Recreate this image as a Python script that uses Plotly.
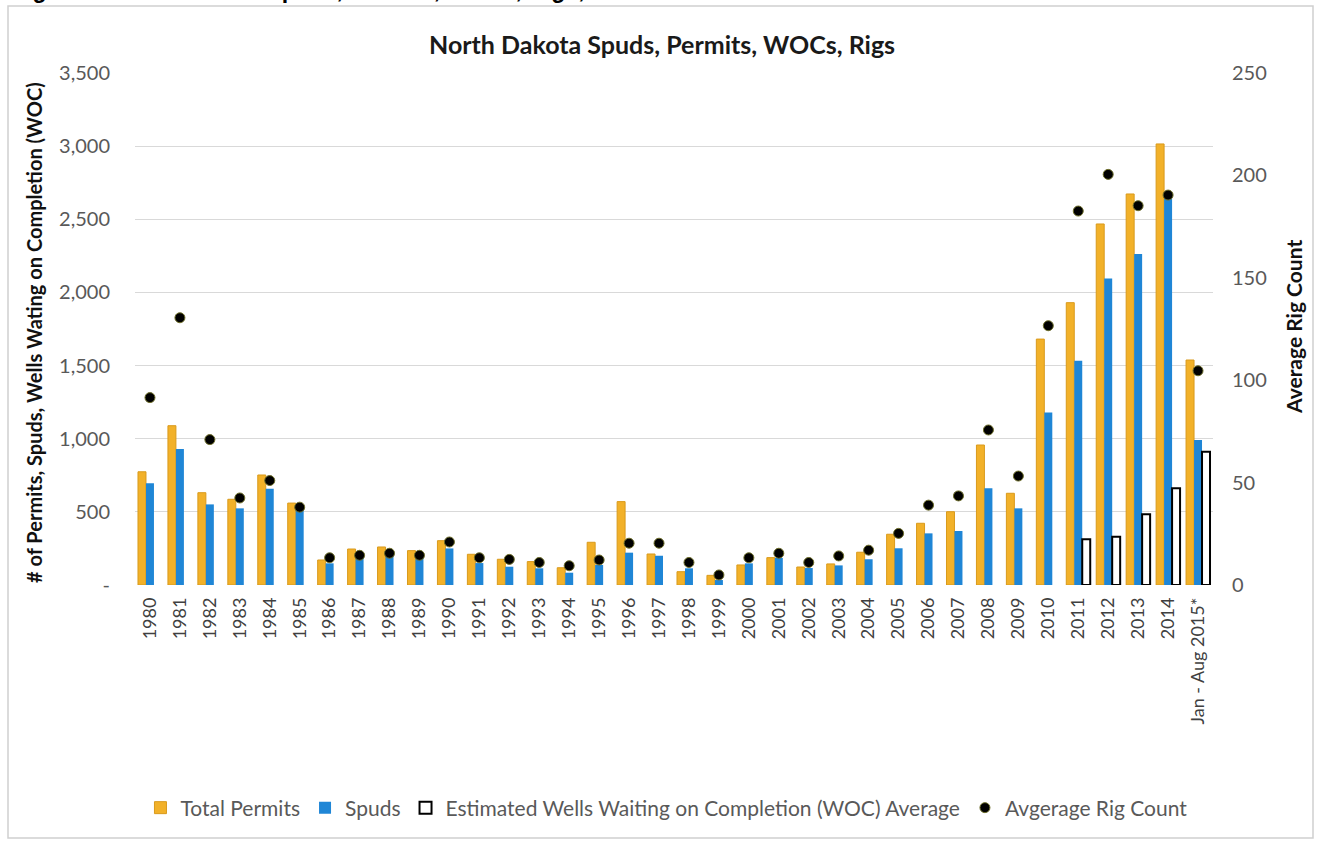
import plotly.graph_objects as go

categories = [str(y) for y in range(1980, 2015)] + ["Jan - Aug 2015*"]

total_permits = [774, 1089, 631, 586, 752, 560, 171, 246, 260, 235, 303, 210, 176, 160, 118, 292,
                 570, 212, 91, 66, 137, 187, 123, 144, 224, 347, 422, 501, 957, 627, 1681, 1930,
                 2468, 2673, 3015, 1538]
spuds = [695, 930, 551, 524, 658, 520, 148, 200, 200, 190, 250, 150, 125, 114, 84, 137,
         221, 200, 114, 34, 148, 185, 116, 134, 176, 251, 353, 369, 661, 524, 1180, 1533,
         2096, 2263, 2643, 991]
woc = [None] * 31 + [312, 330, 483, 661, 911]
rig_count = [91.5, 130.5, 71, 42.5, 51, 38, 13.3, 14.5, 15.5, 14.5, 21, 13.3, 12.5, 11, 9.4, 12.2,
             20.4, 20.4, 11, 4.9, 13.3, 15.5, 11, 14.2, 17, 25.2, 39, 43.5, 75.7, 53.2, 126.6, 182.6,
             200.5, 185.2, 190.4, 104.6]

left_tickvals = [0, 500, 1000, 1500, 2000, 2500, 3000, 3500]
left_ticktext = ["-", "500", "1,000", "1,500", "2,000", "2,500", "3,000", "3,500"]
right_tickvals = [0, 50, 100, 150, 200, 250]

FONT = "Lato"
GRAY = "#595959"

fig = go.Figure()
fig.add_trace(go.Bar(x=categories, y=total_permits, name="Total Permits",
                     marker=dict(color="#F2B129", line=dict(color="#D99A1C", width=1))))
fig.add_trace(go.Bar(x=categories, y=spuds, name="Spuds",
                     marker=dict(color="#1F86D6", line=dict(color="#1F86D6", width=0))))
fig.add_trace(go.Bar(x=categories, y=woc, name="Estimated Wells Waiting on Completion (WOC) Average",
                     marker=dict(color="white", line=dict(color="black", width=2))))
fig.add_trace(go.Scatter(x=categories, y=rig_count, name="Avgerage Rig Count", mode="markers",
                         yaxis="y2",
                         marker=dict(color="black", size=10, line=dict(color="#6E6E2A", width=1))))

L, R, T, B = 135, 107, 73, 257
W, H = 1320, 842
pw, ph = W - L - R, H - T - B

def px(x):
    return (x - L) / pw

def py(y):
    return (H - B - y) / ph

fig.update_layout(
    width=W, height=H,
    margin=dict(l=L, r=R, t=T, b=B, autoexpand=False),
    paper_bgcolor="white", plot_bgcolor="white",
    barmode="group", bargap=0.2, bargroupgap=0,
    font=dict(family=FONT, color=GRAY, size=18),
    showlegend=True,
    legend=dict(orientation="h", x=0.493, xanchor="center", y=py(808), yanchor="middle",
                font=dict(family=FONT, size=21, color=GRAY), itemwidth=30,
                traceorder="normal"),
    xaxis=dict(type="category", tickangle=-90, showgrid=False, showline=False,
               ticks="", ticklabelstandoff=8,
               tickfont=dict(family=FONT, size=18, color="#404040"),
               range=[-0.5, len(categories) - 0.5]),
    yaxis=dict(range=[0, 3500], tickvals=left_tickvals, ticktext=left_ticktext,
               showgrid=True, gridcolor="#D9D9D9", gridwidth=1, zeroline=False,
               showline=False, ticks="", ticklabelstandoff=24,
               tickfont=dict(family=FONT, size=20, color=GRAY)),
    yaxis2=dict(range=[0, 250], tickvals=right_tickvals, overlaying="y", side="right",
                showgrid=False, zeroline=False, showline=False, ticks="",
                ticklabelstandoff=18,
                tickfont=dict(family=FONT, size=20, color=GRAY)),
    shapes=[dict(type="rect", xref="paper", yref="paper",
                 x0=px(8), x1=px(1313), y0=py(838), y1=py(6),
                 line=dict(color="#D0D0D0", width=1.5), fillcolor="rgba(0,0,0,0)",
                 layer="below")],
    annotations=[
        dict(text="<b>North Dakota Spuds, Permits, WOCs, Rigs</b>", xref="paper", yref="paper",
             x=px(662), y=py(44), xanchor="center", yanchor="middle", showarrow=False,
             font=dict(family=FONT, size=25, color="#1A1A1A")),
        dict(text="<b># of Permits, Spuds, Wells Wating on Completion (WOC)</b>",
             xref="paper", yref="paper", x=px(34), y=py(333), textangle=-90,
             xanchor="center", yanchor="middle", showarrow=False,
             font=dict(family=FONT, size=20, color="#111111")),
        dict(text="<b>Average Rig Count</b>", xref="paper", yref="paper",
             x=px(1293), y=py(327), textangle=-90, xanchor="center", yanchor="middle",
             showarrow=False, font=dict(family=FONT, size=21, color="#111111")),
        dict(text="<b>Figure 3: North Dakota Spuds, Permits, WOCs, Rigs, 1980 - 2015</b>",
             xref="paper", yref="paper", x=px(10), y=py(5), xanchor="left", yanchor="bottom",
             showarrow=False, font=dict(family="Liberation Sans", size=23, color="black")),
    ],
)

fig.write_html("out.html", config={"displayModeBar": False},
               post_script="document.body.style.margin='0';")
